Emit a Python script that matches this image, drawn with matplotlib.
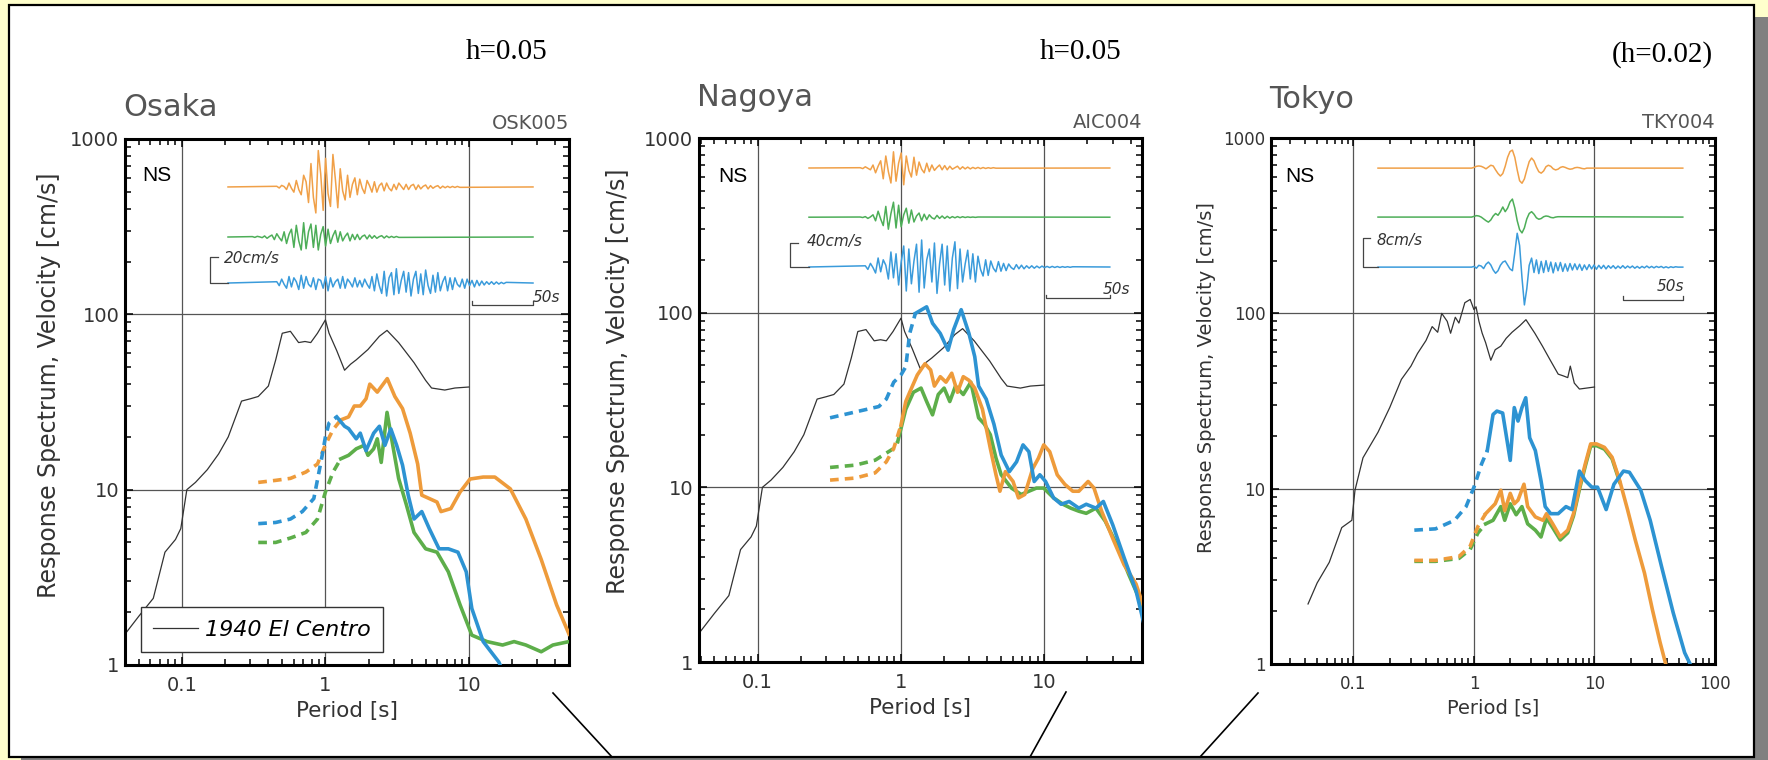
import numpy as np
import matplotlib.pyplot as plt
from matplotlib.patches import Rectangle
from matplotlib.lines import Line2D
from matplotlib.ticker import LogLocator, NullFormatter

plt.rcParams['font.family'] = 'DejaVu Sans'

W, H = 1768, 760

# ---------------- response spectra: period [s], velocity [cm/s] ----------------
elc05_T = [0.04, 0.05, 0.063, 0.076, 0.09, 0.098, 0.108, 0.124, 0.15, 0.18, 0.21, 0.26, 0.3, 0.34,
           0.4, 0.45, 0.5, 0.57, 0.65, 0.72, 0.79, 0.88, 1.0, 1.06, 1.2, 1.36, 1.5, 1.64, 1.98, 2.38,
           2.69, 3.24, 4.15, 5.0, 5.5, 6.8, 8.0, 10]
elc05_V = [1.5, 1.9, 2.4, 4.4, 5.2, 6.0, 10, 11, 13, 16, 20, 32, 33, 34, 39, 55, 78, 80, 69, 70,
           69, 78, 93, 78, 62, 48, 52, 55, 63, 75, 81, 69, 53, 42, 38, 37, 38, 38.5]
elc02_T = [0.042, 0.05, 0.063, 0.08, 0.097, 0.103, 0.12, 0.16, 0.2, 0.25, 0.3, 0.34, 0.4, 0.45,
           0.5, 0.54, 0.6, 0.64, 0.7, 0.75, 0.84, 0.93, 1.0, 1.04, 1.1, 1.17, 1.25, 1.38, 1.5, 1.67,
           1.85, 2.07, 2.4, 2.7, 3.2, 3.7, 4.3, 5.0, 5.5, 6.0, 6.3, 6.8, 7.5, 10]
elc02_V = [2.2, 2.9, 3.8, 6.0, 6.6, 9.8, 15, 21, 29, 42, 50, 59, 70, 84, 78, 100, 90, 77, 95, 88,
           115, 120, 105, 109, 90, 77, 68, 54, 62, 65, 72, 78, 85, 92, 77, 65, 54, 45, 44, 43,
           50, 40, 37, 38]

# Osaka OSK005
osk_or_T = [0.34, 0.45, 0.57, 0.73, 0.88, 1.0, 1.13, 1.28, 1.45, 1.59, 1.75, 1.92, 2.04, 2.3, 2.7,
            3.05, 3.45, 3.9, 4.4, 4.7, 5.3, 6.0, 6.4, 7.5, 8.7, 10.2, 12.6, 15.2, 19.5, 25, 32, 41, 50]
osk_or_V = [11, 11.3, 11.6, 12.6, 14, 18, 22, 25, 26, 30, 30, 33, 40, 36, 43, 34, 29, 21, 14, 9.3,
            8.9, 8.5, 7.5, 7.8, 9.7, 11.5, 11.8, 11.8, 10.1, 6.8, 4.0, 2.2, 1.5]
osk_gr_T = [0.34, 0.45, 0.57, 0.73, 0.88, 1.0, 1.13, 1.28, 1.45, 1.64, 1.86, 1.98, 2.17, 2.3, 2.45,
            2.69, 2.95, 3.24, 3.67, 4.15, 5.0, 6.0, 7.2, 8.7, 10.5, 13.4, 17.2, 20.7, 25, 32, 38.6, 50]
osk_gr_V = [5.0, 5.0, 5.3, 5.7, 6.8, 9.7, 12.6, 15, 15.7, 17.1, 17.9, 15.7, 17.1, 19.5, 14.3, 27.6,
            17.9, 11.6, 8.2, 5.7, 4.6, 4.4, 3.4, 2.2, 1.48, 1.36, 1.3, 1.36, 1.3, 1.19, 1.3, 1.36]
osk_bl_T = [0.34, 0.45, 0.57, 0.69, 0.83, 0.94, 1.0, 1.06, 1.2, 1.36, 1.45, 1.64, 1.75, 1.92, 2.17,
            2.38, 2.6, 2.86, 3.14, 3.45, 3.78, 4.15, 4.7, 5.3, 6.2, 7.2, 8.4, 9.6, 10.5, 12.6, 16.2, 17]
osk_bl_V = [6.4, 6.5, 6.8, 7.5, 8.9, 15, 20, 24, 26, 23, 22.3, 19.5, 21, 16.7, 21, 23, 17.9, 22.2,
            17.9, 13.8, 9.3, 6.8, 7.5, 6.0, 4.6, 4.6, 4.4, 3.4, 2.1, 1.36, 1.04, 0.95]

# Nagoya AIC004
aic_or_T = [0.32, 0.48, 0.66, 0.79, 0.89, 1.0, 1.08, 1.15, 1.3, 1.47, 1.61, 1.71, 1.88, 2.06, 2.26,
            2.48, 2.72, 2.98, 3.27, 3.7, 4.2, 4.6, 4.9, 5.35, 6.05, 6.6, 7.3, 8.3, 9.1, 9.9, 10.9,
            12.3, 13.9, 15.8, 17.4, 20.2, 22.2, 25.1, 30, 36, 43.6, 50]
aic_or_V = [11, 11.3, 12.1, 14, 16.7, 22.7, 31, 35, 44, 51, 47, 38, 43, 40, 45, 35, 43, 41, 37, 28,
            16.7, 11.8, 9.5, 12.3, 10.8, 8.7, 9.1, 12.8, 14.7, 17.5, 16, 11.8, 10.4, 9.5, 9.5, 10.8,
            9.9, 7.3, 5.1, 3.6, 2.8, 2.0]
aic_gr_T = [0.32, 0.48, 0.66, 0.79, 0.89, 0.95, 1.08, 1.22, 1.38, 1.51, 1.66, 1.82, 2.0, 2.19, 2.4,
            2.72, 3.07, 3.48, 3.82, 4.2, 4.6, 5.0, 5.9, 6.9, 7.8, 8.8, 9.9, 11.6, 13.5, 15.3, 17.4,
            19.6, 22.9, 26.6, 32, 38.6, 46.5, 50]
aic_gr_V = [13, 13.4, 14.3, 15.7, 16.7, 18.3, 28, 35, 37, 31, 26, 34, 37, 31, 38, 34, 40, 25, 23, 20,
            14.7, 11.8, 9.9, 9.1, 9.5, 9.9, 9.9, 8.7, 8.0, 7.6, 7.3, 7.1, 7.6, 6.4, 4.7, 3.2, 2.25, 1.8]
aic_bl_T = [0.32, 0.48, 0.70, 0.79, 0.89, 1.0, 1.08, 1.15, 1.26, 1.51, 1.66, 1.88, 2.13, 2.33, 2.63,
            2.98, 3.27, 3.48, 3.93, 4.45, 5.0, 5.7, 6.4, 7.1, 7.8, 8.5, 9.3, 10.2, 11.6, 13.1, 14.9,
            17.4, 19.6, 22.9, 25.8, 30, 36, 43.6, 50]
aic_bl_V = [25, 27, 29, 32, 40, 44, 49, 76, 99, 108, 87, 76, 61, 80, 104, 76, 56, 38, 32, 23, 15.3,
            12.3, 14, 17.5, 16, 10.8, 11.8, 10.8, 8.7, 8.0, 8.3, 7.6, 8.0, 7.6, 8.3, 6.1, 3.96, 2.56, 1.6]

# Tokyo TKY004
tky_or_T = [0.32, 0.48, 0.75, 0.93, 1.08, 1.25, 1.5, 1.67, 1.8, 2.0, 2.16, 2.32, 2.6, 2.79, 3.23,
            3.74, 4.0, 4.5, 5.2, 6.0, 6.7, 7.5, 8.4, 9.3, 10.4, 12.1, 14.0, 16.2, 18.8, 21.8, 26,
            30.2, 35, 39]
tky_or_V = [3.9, 3.9, 4.1, 4.7, 6.1, 7.2, 8.2, 9.8, 7.5, 9.4, 8.2, 8.6, 10.6, 7.9, 6.9, 6.6, 7.2,
            6.3, 5.3, 5.8, 7.2, 10.2, 13.9, 18, 18, 17.2, 15.1, 11.1, 7.6, 5.1, 3.3, 2.05, 1.33, 1.0]
tky_gr_T = [0.32, 0.48, 0.75, 0.93, 1.08, 1.25, 1.44, 1.67, 1.8, 2.0, 2.24, 2.5, 2.79, 3.23, 3.6,
            4.0, 4.5, 5.2, 6.0, 6.7, 7.5, 8.4, 9.3, 10.4, 12.1, 14.0, 16.2]
tky_gr_V = [3.85, 3.85, 4.0, 4.5, 5.6, 6.3, 6.6, 7.9, 6.6, 8.2, 7.1, 7.9, 6.3, 5.8, 5.3, 6.8, 6.0,
            5.1, 5.6, 7.0, 9.9, 13.5, 17.5, 17.6, 16.8, 14.8, 10.9]
tky_bl_T = [0.32, 0.48, 0.69, 0.86, 1.0, 1.16, 1.29, 1.44, 1.55, 1.73, 2.0, 2.16, 2.32, 2.5, 2.69,
            2.9, 3.23, 3.6, 3.9, 4.33, 5.0, 5.8, 6.5, 7.5, 8.4, 9.5, 10.6, 12.5, 14.5, 17.4, 19.5,
            24.2, 29, 36, 45, 56, 63]
tky_bl_V = [5.8, 5.9, 6.6, 7.9, 10.2, 13.9, 16.5, 26.5, 27.7, 27, 14.5, 29, 24.3, 29, 33, 19.5,
            16.5, 11.1, 7.9, 7.2, 7.2, 7.9, 7.6, 12.6, 11.1, 10.2, 10.2, 7.6, 10.6, 12.6, 12.4, 9.8,
            6.6, 3.6, 1.96, 1.16, 0.98]

# period where the dashed (short period) part ends: orange, green, blue
osk_split = [1.28, 1.28, 1.2]
aic_split = [1.0, 0.95, 1.26]
tky_split = [1.25, 1.25, 1.29]

# ---------------- velocity waveforms [cm/s], sampled every 2 s from t0 ----------------
wf_dt = 2
osk_w_or = [0.5, -0.8, 1.2, 0.3, -2, 3, -1, -4, 5, -2, -6, 9, 4, -12, 18, -8, -20, 28, 10, -18, 22,
            -5, -15, 25, 6, -16, 14, -3, -10, 9, -8, 2, 7, -6, 6, -1, -5, 5, 1, -4, 4, -4, 1, 3, -3,
            3, -1, -3, 2, -2, 3, 0.5, -2, 2, -2, 1, 2, -2, 1.5, -1.5, 0.5, 1.5, -1.5, 1, -1, 0.3, 1,
            -1, 0.6, -0.6, 0.5, -0.5, 0.4, -0.4, 0.4, -0.3]
osk_w_gr = [0.3, -0.3, 0.5, 0.1, -0.5, 0.8, -1, 0.4, 1.5, -2, 2.5, -0.5, -3, 4, -5, 2, 6, -8, 9, -3,
            -10, 11, -9, 4, 10, -8, 9, -10, 2, 8, -7, 6, -5, 1, 5, -4, 4, -3, 0.5, 3, -3, 2, -2, 2,
            -2, 0.5, 1.5, -1.5, 1.5, -1, 1, -1, 0.3, 1, -0.8, 0.8, -0.5, 0.5, -0.4, 0.4, -0.3]
osk_w_bl = [1, -2, 3, -1, -4, 5, -3, 4, 1, -5, 6, -4, 5, -1, -3, 4, -5, 3, 2, -4, 5, -6, 4, -3, 1,
            3, -4, 5, -4, 3, 0.5, -3, 4, -3, 2, -3, 3, -1, -4, 5, -6, 7, -2, -8, 9, -10, 4, 8, -9,
            11, -8, 2, 9, -7, 8, -10, 3, 9, -8, 7, -9, 10, -2, -8, 6, -7, 8, -6, 1, 5, -6, 4, -5,
            4, -1, -3, 3, -4, 3, -2, 2, -3, 2, -2, 1.5, -1.5, 1, -1, 1, -1, 0.8, -0.8, 0.5, -0.5, 0.5]
osk_w_t0 = [40, 20, 40]

aic_w_or = [0.5, -1, 2, -0.5, -3, 5, -8, 3, 12, -18, 20, -6, -25, 27, -22, 8, 25, -28, 20, -4, -15,
            18, -12, 10, -2, -8, 8, -6, 5, -4, 1, 5, -3, 4, -3, 3, -2, 0.5, 3, -2, 2, -1.5, 1.5,
            -1.5, 1, -1, 1, -1, 0.8, -0.8, 0.5, -0.5, 0.5, -0.3]
aic_w_gr = [0.3, -0.5, 1, -2, 0.5, 4, -6, 10, -3, -14, 18, -20, 6, 25, -18, 20, -16, 4, 15, -10, 12,
            -8, 2, 7, -6, 5, -4, 4, -1, -3, 3, -2, 2, -2, 1.5, -1.5, 1, -1, 1, -0.8, 0.8, -0.5, 0.5,
            -0.3, 0.3, -0.3, 0.3]
aic_w_bl = [2, -4, 6, -1, -10, 15, -8, 12, 3, -20, 25, -18, 22, -30, 8, 35, -40, 30, -28, 10, 38,
            -42, 45, -35, 12, 30, -25, 40, -44, 5, 38, -30, 35, -40, 15, 42, -36, 30, -25, 5, 28,
            -20, 22, -25, 18, -4, -15, 12, -14, 10, -2, -8, 9, -7, 6, -6, 5, -1, -4, 4, -3, 3, -3,
            2, -2, 2, -2, 1.5, -1.5, 1.5, -1, 1, -1, 1, -0.8, 0.8, -0.8, 0.6, -0.5, 0.5, -0.5, 0.4]
aic_w_t0 = [40, 40, 44]

tky_w_or = [0, 0.2, 0.5, 0.6, 0.5, 0.2, -0.2, 0.3, 0.8, 0.6, -0.5, -1.5, -2.2, -1.5, 0.5, 3.0, 4.6,
            5.0, 3.0, -0.5, -3.5, -4.2, -3.0, -0.5, 1.8, 2.8, 2.0, 0.3, -1.0, -1.4, -0.8, 0.4, 0.8,
            0.5, -0.2, -0.5, -0.3, 0.2, 0.4, 0.2, -0.1, -0.3, -0.2, 0.1, 0.2, 0.1, -0.1, -0.2, 0]
tky_w_gr = [0, 0.2, 0.4, 0.3, 0, -0.5, -1.0, -1.4, -0.8, 0.3, 1.0, 0.5, 1.5, 2.8, 1.5, 2.5, 4.2, 5.0,
            2.5, -1.0, -3.5, -4.4, -3.0, -0.5, 1.0, 1.5, 0.8, -0.2, -0.6, -0.4, 0.1, 0.3, 0.2, -0.1,
            -0.2, 0, 0.1]
tky_w_bl = [0, 0.2, -0.3, 0.5, 0.3, -0.4, 0.8, 1.4, 0.6, -0.8, -1.7, -1.0, 0.5, 1.4, 1.7, 0.6, -0.5,
            -1.0, 4.0, 9.4, 6.0, -3.0, -10.5, -6.0, 0.5, 2.5, -1.5, 2.0, -1.8, 1.6, -1.5, 1.8, -1.2,
            1.4, -1.6, 1.2, -1.0, 1.3, -1.2, 0.9, -1.1, 1.0, -0.8, 0.9, -0.7, 0.8, -0.9, 0.6, -0.7,
            0.7, -0.5, 0.6, -0.6, 0.5, -0.4, 0.5, -0.5, 0.4, -0.3, 0.4, -0.4, 0.3, -0.3, 0.4, -0.3,
            0.3, -0.2, 0.3, -0.3, 0.2, -0.3, 0.2, -0.2, 0.3, -0.2, 0.2, -0.2, 0.2, -0.1, 0.2, -0.2,
            0.1, -0.2, 0.1, -0.1, 0.1, 0]
tky_w_t0 = [78, 78, 78]

cities = ['Osaka', 'Nagoya', 'Tokyo']
stations = ['OSK005', 'AIC004', 'TKY004']
damping = ['h=0.05', 'h=0.05', '(h=0.02)']
wf_scale = [20, 40, 8]
wf_scale_lbl = ['20cm/s', '40cm/s', '8cm/s']
wf_length = [250, 235, 254]

ORANGE, GREEN, BLUE = '#EE9B3B', '#5DAE4A', '#2D93D2'
W_ORANGE, W_GREEN, W_BLUE = '#F0A048', '#4DAE58', '#3A9BDB'


def px_box(l, t, r, b):
    return [l / W, 1 - b / H, (r - l) / W, (b - t) / H]


def spectrum(ax, T, V, split, color):
    T, V = np.asarray(T), np.asarray(V)
    d = T <= split
    s = T >= split
    ax.plot(T[d], V[d], color=color, lw=2.6, ls=(0, (2.4, 1.7)), zorder=3)
    ax.plot(T[s], V[s], color=color, lw=2.6, zorder=3, solid_joinstyle='round')


def trace(wa, t0, w, length, off, color):
    t = np.r_[0, t0 + wf_dt * np.arange(len(w)), length]
    v = np.r_[0, w, 0] + off
    wa.plot(t, v, color=color, lw=1.1)


fig = plt.figure(figsize=(W / 100, H / 100), dpi=100)
fig.patch.set_facecolor('#FFFFCC')
fig.add_artist(Rectangle((21 / W, 1 - 775 / H), 1780 / W, 758 / H, transform=fig.transFigure,
                         facecolor='#808080', edgecolor='none', zorder=-3))
fig.add_artist(Rectangle((9 / W, 1 - 757 / H), 1745 / W, 752 / H, transform=fig.transFigure,
                         facecolor='white', edgecolor='black', lw=1.6, zorder=-2))

panels = [
    dict(box=(125, 139, 569, 665), xlim=(0.04, 50), xt=[0.1, 1, 10], xtl=['0.1', '1', '10'],
         elc=(elc05_T, elc05_V),
         curves=[(osk_or_T, osk_or_V), (osk_gr_T, osk_gr_V), (osk_bl_T, osk_bl_V)], split=osk_split,
         waves=[osk_w_or, osk_w_gr, osk_w_bl], t0=osk_w_t0,
         wbox=(195, 140, 565, 315), x0=228, pps=1.22, ppu=1.3, offs=[98.5, 60, 24.6],
         brk=(-14.8, -8.2), bar_y=7.7, lbl=(-3, 43.8), s50=(272, 13.8),
         title_y=107, ylab_x=-0.144, ylab_y=0.532, ns=(0.038, 0.93),
         tfs=14, lfs=15.5, yfs=17, h_r=547, h_y=52),
    dict(box=(699, 138, 1142, 662), xlim=(0.039, 48), xt=[0.1, 1, 10], xtl=['0.1', '1', '10'],
         elc=(elc05_T, elc05_V),
         curves=[(aic_or_T, aic_or_V), (aic_gr_T, aic_gr_V), (aic_bl_T, aic_bl_V)], split=aic_split,
         waves=[aic_w_or, aic_w_gr, aic_w_bl], t0=aic_w_t0,
         wbox=(775, 140, 1150, 315), x0=809, pps=1.28, ppu=0.6, offs=[245, 163, 80],
         brk=(-14.8, -8.6), bar_y=28, lbl=(-1.5, 122), s50=(251, 42),
         title_y=98, ylab_x=-0.156, ylab_y=0.535, ns=(0.043, 0.927),
         tfs=14, lfs=15.5, yfs=17, h_r=1121, h_y=52),
    dict(box=(1271, 138, 1715, 664), xlim=(0.0207, 100), xt=[0.1, 1, 10, 100],
         xtl=['0.1', '1', '10', '100'],
         elc=(elc02_T, elc02_V),
         curves=[(tky_or_T, tky_or_V), (tky_gr_T, tky_gr_V), (tky_bl_T, tky_bl_V)], split=tky_split,
         waves=[tky_w_or, tky_w_gr, tky_w_bl], t0=tky_w_t0,
         wbox=(1345, 140, 1715, 315), x0=1378, pps=1.2, ppu=3.6, offs=[40.8, 27.2, 13.3],
         brk=(-12.5, -6.7), bar_y=4.2, lbl=(-1, 20.8), s50=(255, 7.8),
         title_y=100, ylab_x=-0.124, ylab_y=0.544, ns=(0.032, 0.926),
         tfs=12, lfs=14, yfs=14, h_r=1713, h_y=55),
]

for i, p in enumerate(panels):
    ax = fig.add_axes(px_box(*p['box']))
    ax.set_xscale('log')
    ax.set_yscale('log')
    ax.set_xticks(p['xt'], labels=p['xtl'])
    ax.set_yticks([1, 10, 100, 1000], labels=['1', '10', '100', '1000'])
    ax.xaxis.set_minor_locator(LogLocator(base=10, subs=np.arange(2, 10), numticks=20))
    ax.yaxis.set_minor_locator(LogLocator(base=10, subs=np.arange(2, 10), numticks=20))
    ax.xaxis.set_minor_formatter(NullFormatter())
    ax.yaxis.set_minor_formatter(NullFormatter())
    ax.set_xlim(*p['xlim'])
    ax.set_ylim(1, 1000)
    ax.grid(True, which='major', color='#555555', lw=0.9)
    ax.set_axisbelow(True)
    for sp in ax.spines.values():
        sp.set_linewidth(2.2)
    ax.tick_params(which='both', direction='in', top=True, right=True, width=1.1,
                   labelcolor='#333333', labelsize=p['tfs'])
    ax.tick_params(which='major', length=6)
    ax.tick_params(which='minor', length=4)
    ax.tick_params(axis='x', pad=8)
    ax.tick_params(axis='y', pad=4)
    ax.set_xlabel('Period [s]', fontsize=p['lfs'], color='#333333', labelpad=4)
    ax.set_ylabel('Response Spectrum, Velocity [cm/s]', fontsize=p['yfs'], color='#333333')
    ax.yaxis.set_label_coords(p['ylab_x'], p['ylab_y'])

    elc_line, = ax.plot(p['elc'][0], p['elc'][1], color='#333333', lw=0.9, zorder=2.5,
                        label='1940 El Centro')
    for (T, V), sp_, c in zip(p['curves'][1::-1] + p['curves'][2:],
                              [p['split'][1], p['split'][0], p['split'][2]],
                              [GREEN, ORANGE, BLUE]):
        spectrum(ax, T, V, sp_, c)

    ax.text(p['ns'][0], p['ns'][1], 'NS', transform=ax.transAxes, fontsize=15,
            family='Liberation Sans', va='center', ha='left')
    ax.text(1.0, 1.012, stations[i], transform=ax.transAxes, fontsize=14, color='#555555',
            ha='right', va='bottom')
    fig.text((p['box'][0] - 2) / W, 1 - p['title_y'] / H, cities[i], fontsize=22,
             color='#555555', ha='left', va='center')
    fig.text(p['h_r'] / W, 1 - p['h_y'] / H, damping[i], fontsize=21,
             family='Liberation Serif', ha='right', va='center')

    if i == 0:
        leg = ax.legend(handles=[elc_line], loc='lower left', bbox_to_anchor=(0.036, 0.025),
                        borderaxespad=0, fancybox=False, framealpha=1, edgecolor='#333333',
                        prop={'style': 'italic', 'size': 16}, handlelength=2.0,
                        handletextpad=0.35, borderpad=0.55)
        leg.get_frame().set_linewidth(1.0)
        leg.set_zorder(10)

    # waveform inset
    l, t, r, b = p['wbox']
    wa = fig.add_axes(px_box(l, t, r, b))
    wa.set_xlim((l - p['x0']) / p['pps'], (r - p['x0']) / p['pps'])
    wa.set_ylim(0, (b - t) / p['ppu'])
    wa.axis('off')
    wa.patch.set_alpha(0)
    L = wf_length[i]
    for w, t0, off, c in zip(p['waves'], p['t0'], p['offs'], [W_ORANGE, W_GREEN, W_BLUE]):
        trace(wa, t0, w, L, off, c)
    bx, bt = p['brk']
    ob = p['offs'][2]
    wa.plot([bt, bx, bx, 0], [ob + wf_scale[i], ob + wf_scale[i], ob, ob], color='#444444', lw=0.9)
    wa.text(p['lbl'][0], p['lbl'][1], wf_scale_lbl[i], fontsize=11, style='italic',
            color='#333333', ha='left', va='center')
    by = p['bar_y']
    tk = (b - t) / p['ppu'] * 0.02
    wa.plot([L - 50, L - 50, L, L], [by + tk, by, by, by + tk], color='#444444', lw=0.9)
    wa.text(p['s50'][0], p['s50'][1], '50s', fontsize=11, style='italic', color='#333333',
            ha='right', va='center')

# connector lines toward the bottom
for (x1, y1), (x2, y2) in [((553, 693), (612, 757)), ((1066, 692), (1030, 757)),
                           ((1258, 693), (1200, 757))]:
    fig.add_artist(Line2D([x1 / W, x2 / W], [1 - y1 / H, 1 - y2 / H], transform=fig.transFigure,
                          color='black', lw=1.2, zorder=5))

fig.savefig('out.png', dpi=100, facecolor=fig.get_facecolor())
